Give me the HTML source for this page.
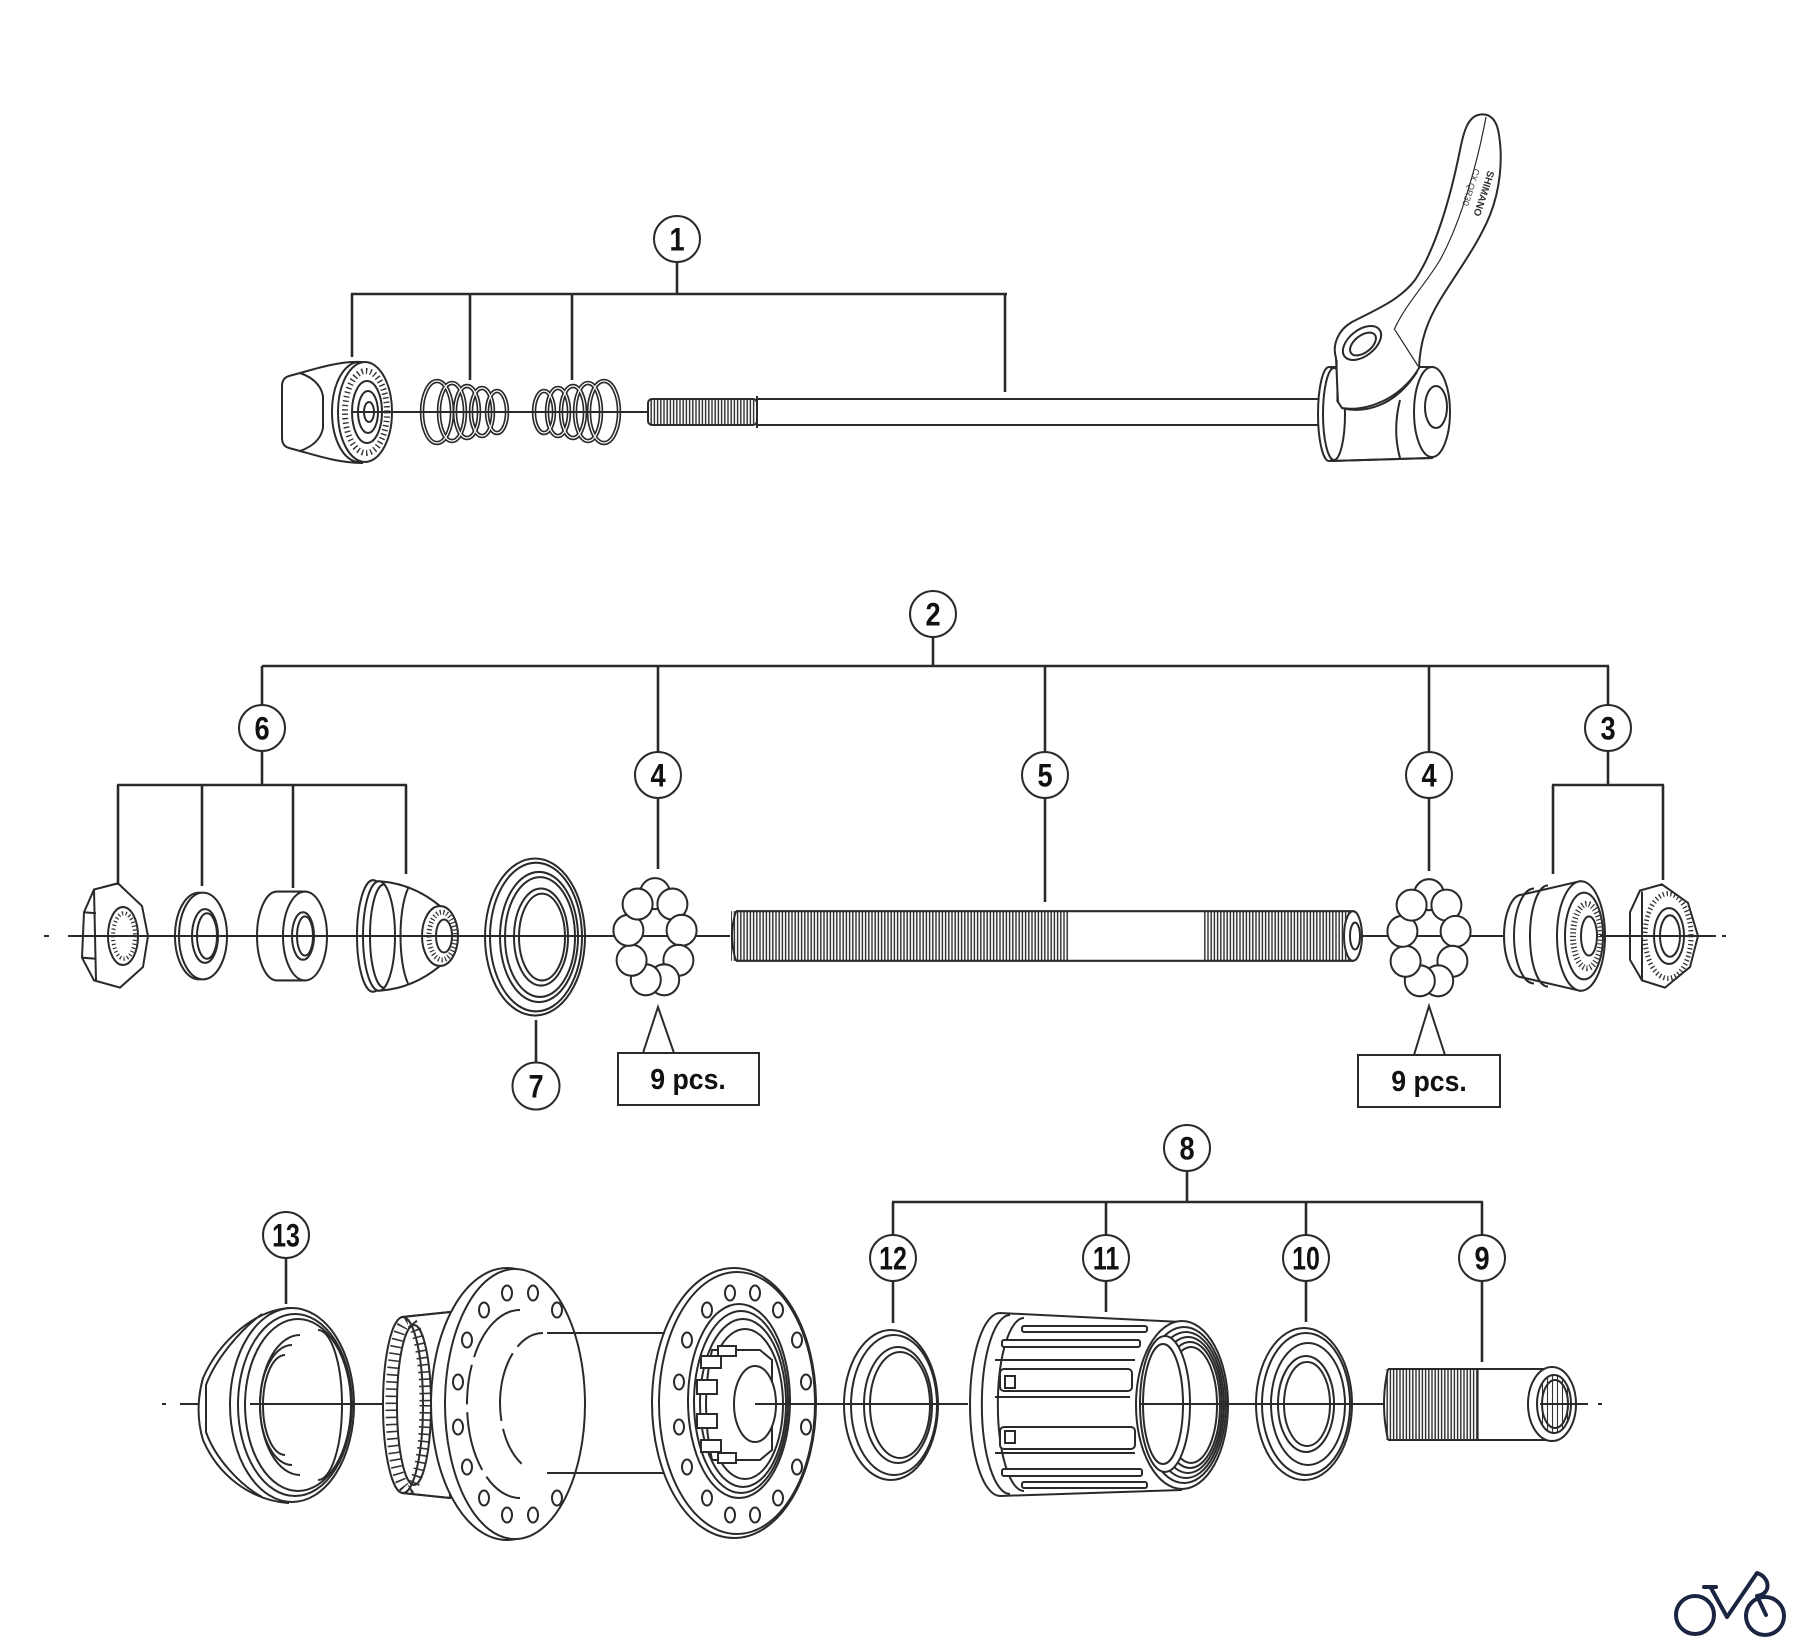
<!DOCTYPE html>
<html><head><meta charset="utf-8"><style>
html,body{margin:0;padding:0;background:#fff;}
svg{display:block;}
.l{stroke:#2a2a2a;stroke-width:2.6;fill:none;}
.p{stroke:#2a2a2a;stroke-width:2;fill:#fff;}
.pn{stroke:#2a2a2a;stroke-width:2;fill:none;}
.t{stroke:#2a2a2a;stroke-width:1.2;fill:none;}
.ax{stroke:#2a2a2a;stroke-width:2;fill:none;}
.lb{font-family:"Liberation Sans",Arial,sans-serif;font-weight:bold;font-size:32px;fill:#111;}
.pc{font-family:"Liberation Sans",Arial,sans-serif;font-weight:bold;font-size:29px;fill:#111;}
</style></head><body>
<svg width="1800" height="1651" viewBox="0 0 1800 1651" xmlns="http://www.w3.org/2000/svg">
<defs>
<pattern id="thr" width="3.2" height="20" patternUnits="userSpaceOnUse"><rect width="3.2" height="20" fill="#fff"/><line x1="1.6" y1="0" x2="1.6" y2="20" stroke="#333" stroke-width="1.45"/></pattern>
<pattern id="spl" width="5" height="20" patternUnits="userSpaceOnUse"><rect width="5" height="20" fill="#fff"/><line x1="2.5" y1="0" x2="2.5" y2="20" stroke="#333" stroke-width="1.1"/></pattern>
<g id="ball"><circle r="15" class="p" stroke-width="1.8"/></g>
</defs>
<rect width="1800" height="1651" fill="#fff"/>

<!-- ================= SECTION 1 ================= -->
<g>
<line class="l" x1="677" y1="262" x2="677" y2="294"/>
<line class="l" x1="351" y1="294" x2="1007" y2="294" stroke-width="3"/>
<line class="l" x1="352" y1="294" x2="352" y2="357"/>
<line class="l" x1="470" y1="294" x2="470" y2="380"/>
<line class="l" x1="572" y1="294" x2="572" y2="380"/>
<line class="l" x1="1005" y1="294" x2="1005" y2="392"/>
</g>
<!-- nut -->
<g>
<path class="p" d="M362,362 C340,361 318,368 300,373 L289,376 Q282,378 282,386 L282,438 Q282,446 289,448 L300,451 C318,456 340,463 362,463 Z"/>
<path class="pn" d="M300,373 Q320,380 323,396 L323,428 Q320,444 300,451"/>
<ellipse class="p" cx="359" cy="412" rx="27" ry="50"/>
<ellipse class="p" cx="365" cy="412" rx="27" ry="50"/>
<ellipse cx="366" cy="412" rx="21" ry="41" fill="none" stroke="#333" stroke-width="6" stroke-dasharray="1.4 3"/>
<ellipse class="pn" cx="367" cy="412" rx="15" ry="31"/>
<ellipse class="pn" cx="368" cy="412" rx="10" ry="21"/>
<ellipse class="pn" cx="369" cy="412" rx="5" ry="10"/>
</g>
<!-- springs -->
<g fill="none" stroke="#2a2a2a">
<g stroke-width="4.5">
<ellipse cx="437" cy="412" rx="15" ry="31"/><ellipse cx="452" cy="412" rx="13" ry="29"/><ellipse cx="467" cy="412" rx="12" ry="26"/><ellipse cx="482" cy="412" rx="11" ry="24"/><ellipse cx="497" cy="412" rx="10" ry="21"/>
<ellipse cx="544" cy="412" rx="10" ry="21"/><ellipse cx="558" cy="412" rx="11" ry="24"/><ellipse cx="573" cy="412" rx="12" ry="26"/><ellipse cx="588" cy="412" rx="13" ry="29"/><ellipse cx="604" cy="412" rx="15" ry="31"/>
</g>
<g stroke="#fff" stroke-width="1.2">
<ellipse cx="437" cy="412" rx="15" ry="31"/><ellipse cx="452" cy="412" rx="13" ry="29"/><ellipse cx="467" cy="412" rx="12" ry="26"/><ellipse cx="482" cy="412" rx="11" ry="24"/><ellipse cx="497" cy="412" rx="10" ry="21"/>
<ellipse cx="544" cy="412" rx="10" ry="21"/><ellipse cx="558" cy="412" rx="11" ry="24"/><ellipse cx="573" cy="412" rx="12" ry="26"/><ellipse cx="588" cy="412" rx="13" ry="29"/><ellipse cx="604" cy="412" rx="15" ry="31"/>
</g>
</g>
<line class="ax" x1="352" y1="412" x2="648" y2="412" stroke-width="1.8"/>
<!-- threaded end + rod -->
<rect x="648" y="399" width="109" height="26" rx="4" fill="url(#thr)" stroke="#2a2a2a" stroke-width="2"/>
<line class="pn" x1="757" y1="396" x2="757" y2="428"/>
<line class="pn" x1="757" y1="399" x2="1325" y2="399" stroke-width="2.4"/>
<line class="pn" x1="757" y1="425" x2="1325" y2="425" stroke-width="2.4"/>
<!-- lever cam -->
<g>
<path class="p" d="M1331,367 L1432,367 L1432,458 L1331,461 Z" stroke="none"/>
<line class="pn" x1="1331" y1="461" x2="1432" y2="458"/>
<ellipse class="p" cx="1329" cy="414" rx="11" ry="47"/>
<ellipse class="p" cx="1334" cy="414" rx="11" ry="46"/>
<path class="pn" d="M1342,408 C1365,414 1395,406 1417,372"/>
<ellipse class="p" cx="1432" cy="412" rx="18" ry="45"/>
<ellipse class="pn" cx="1436" cy="407" rx="11" ry="21"/>
<path class="pn" d="M1400,458 C1395,440 1395,420 1400,400"/>
<!-- arm -->
<path class="p" d="M1336,358 C1332,345 1338,330 1352,322 C1375,310 1400,300 1415,280 C1435,250 1450,200 1460,150 C1464,130 1468,118 1478,115 C1490,112 1497,120 1499,135 C1503,160 1500,190 1490,215 C1478,245 1455,275 1440,300 C1428,320 1420,340 1419,368 C1400,400 1365,412 1342,408 L1338,402 Z"/>
<path class="t" stroke-width="1.5" d="M1486,117 C1478,160 1462,220 1440,260 C1425,285 1405,305 1394,330"/>
<line class="t" stroke-width="1.5" x1="1395" y1="330" x2="1418" y2="366"/>
<line class="t" stroke-width="1.5" x1="1337" y1="360" x2="1337" y2="402"/>
<ellipse class="p" cx="1362" cy="343" rx="22" ry="13" transform="rotate(-38 1362 343)"/>
<ellipse class="pn" cx="1363" cy="344" rx="15" ry="8.5" transform="rotate(-38 1363 344)"/>
<text transform="translate(1488,170) rotate(108)" font-family="Liberation Sans,Arial,sans-serif" font-size="10" font-weight="bold" fill="#333">SHIMANO</text>
<text transform="translate(1474,168) rotate(108)" font-family="Liberation Sans,Arial,sans-serif" font-size="9" fill="#444">CX QR30</text>
</g>

<!-- ================= SECTION 2 ================= -->
<g>
<line class="l" x1="933" y1="637" x2="933" y2="666"/>
<line class="l" x1="262" y1="666" x2="1609" y2="666" stroke-width="3"/>
<line class="l" x1="262" y1="666" x2="262" y2="706"/>
<line class="l" x1="658" y1="666" x2="658" y2="753"/>
<line class="l" x1="1045" y1="666" x2="1045" y2="753"/>
<line class="l" x1="1429" y1="666" x2="1429" y2="753"/>
<line class="l" x1="1608" y1="666" x2="1608" y2="706"/>
<line class="l" x1="262" y1="751" x2="262" y2="785"/>
<line class="l" x1="117" y1="785" x2="407" y2="785" stroke-width="3"/>
<line class="l" x1="118" y1="785" x2="118" y2="883"/>
<line class="l" x1="202" y1="785" x2="202" y2="886"/>
<line class="l" x1="293" y1="785" x2="293" y2="888"/>
<line class="l" x1="406" y1="785" x2="406" y2="874"/>
<line class="l" x1="658" y1="798" x2="658" y2="869"/>
<line class="l" x1="1045" y1="798" x2="1045" y2="902"/>
<line class="l" x1="1429" y1="798" x2="1429" y2="871"/>
<line class="l" x1="1608" y1="751" x2="1608" y2="785"/>
<line class="l" x1="1552" y1="785" x2="1664" y2="785" stroke-width="3"/>
<line class="l" x1="1553" y1="785" x2="1553" y2="874"/>
<line class="l" x1="1663" y1="785" x2="1663" y2="880"/>
<line class="l" x1="536" y1="1020" x2="536" y2="1062"/>
</g>

<g transform="translate(0,936) scale(1,1.033) translate(0,-925)">
<!-- left hex nut -->
<g>
<polygon class="p" points="84,902 94,880 118,874 142,896 148,925 143,955 120,975 94,968 82,946"/>
<line class="pn" x1="94" y1="880" x2="96" y2="968"/>
<line class="pn" x1="84" y1="902" x2="96" y2="903"/>
<line class="pn" x1="82" y1="946" x2="96" y2="947"/>
<ellipse class="p" cx="123" cy="925" rx="15" ry="28"/>
<ellipse cx="124" cy="925" rx="11" ry="22" fill="none" stroke="#333" stroke-width="4" stroke-dasharray="1.2 2.5"/>
</g>
<!-- washer -->
<g>
<ellipse class="p" cx="199" cy="925" rx="24" ry="42"/>
<ellipse class="p" cx="203" cy="925" rx="24" ry="42"/>
<ellipse class="pn" cx="205" cy="925" rx="13" ry="26"/>
<ellipse class="pn" cx="207" cy="925" rx="10" ry="22"/>
</g>
<!-- spacer -->
<g>
<path class="p" d="M277,882 L305,882 L305,968 L277,968 A20,43 0 0 1 277,882 Z"/>
<ellipse class="p" cx="305" cy="925" rx="22" ry="43"/>
<ellipse class="pn" cx="303" cy="925" rx="11" ry="23"/>
<ellipse class="pn" cx="305" cy="925" rx="8" ry="19"/>
</g>
<!-- cone left -->
<g>
<ellipse class="p" cx="373" cy="925" rx="16" ry="54"/>
<path class="p" d="M378,872 C400,873 420,880 440,896 L440,954 C420,970 400,977 378,978 Z"/>
<ellipse class="p" cx="379" cy="925" rx="16" ry="53"/>
<path class="pn" d="M384,875 A14,50 0 0 0 384,975"/>
<path class="pn" d="M408,879 C398,900 398,950 408,971"/>
<ellipse class="p" cx="440" cy="925" rx="18" ry="29"/>
<ellipse cx="442" cy="925" rx="13" ry="23" fill="none" stroke="#333" stroke-width="5" stroke-dasharray="1.2 2.3"/>
<ellipse class="pn" cx="444" cy="925" rx="8" ry="16"/>
</g>
<!-- seal 7 -->
<g>
<ellipse class="p" cx="535" cy="926" rx="50" ry="76"/>
<ellipse class="pn" cx="536" cy="926" rx="46" ry="72"/>
<ellipse class="pn" cx="539" cy="926" rx="39" ry="63"/>
<ellipse class="pn" cx="540" cy="926" rx="35" ry="58"/>
<ellipse class="pn" cx="541" cy="926" rx="27" ry="47" stroke-width="2.4"/>
<ellipse class="pn" cx="542" cy="926" rx="23" ry="42"/>
</g>
<!-- axis section 2 -->
<line class="ax" x1="44" y1="925" x2="49" y2="925"/>
<line class="ax" x1="68" y1="925" x2="730" y2="925"/>
<line class="ax" x1="1353" y1="925" x2="1716" y2="925"/>
<line class="ax" x1="1722" y1="925" x2="1726" y2="925"/>
<!-- balls left -->
<g>
<use href="#ball" x="655" y="884"/><use href="#ball" x="672.4" y="894.1"/><use href="#ball" x="681.6" y="919.5"/><use href="#ball" x="678.4" y="948.5"/><use href="#ball" x="664.2" y="967.4"/><use href="#ball" x="645.8" y="967.4"/><use href="#ball" x="631.6" y="948.5"/><use href="#ball" x="628.4" y="919.5"/><use href="#ball" x="637.6" y="894.1"/>
</g>
<!-- balls right -->
<g>
<use href="#ball" x="1429" y="885"/><use href="#ball" x="1446.4" y="895.1"/><use href="#ball" x="1455.6" y="920.5"/><use href="#ball" x="1452.4" y="949.5"/><use href="#ball" x="1438.2" y="968.4"/><use href="#ball" x="1419.8" y="968.4"/><use href="#ball" x="1405.6" y="949.5"/><use href="#ball" x="1402.4" y="920.5"/><use href="#ball" x="1411.6" y="895.1"/>
</g>
<!-- axle -->
<g>
<rect x="731" y="901" width="338" height="48" fill="url(#thr)" stroke="none"/>
<rect x="1069" y="901" width="135" height="48" fill="#fff"/>
<rect x="1204" y="901" width="149" height="48" fill="url(#thr)"/>
<path class="pn" d="M736,901 L1353,901 M736,949 L1353,949" stroke-width="2.4"/>
<path class="pn" d="M736,901 Q728,925 736,949"/>
<ellipse class="p" cx="1353" cy="925" rx="9" ry="24"/>
<ellipse class="pn" cx="1355" cy="925" rx="5" ry="13"/>
</g>
<!-- right cone -->
<g>
<path class="p" d="M1522,885 L1580,872 L1580,978 L1522,965 A18,40 0 0 1 1522,885 Z"/>
<path class="pn" d="M1534,879 A20,46 0 0 0 1534,971"/>
<path class="pn" d="M1548,876 A18,49 0 0 0 1548,974"/>
<ellipse class="p" cx="1581" cy="925" rx="24" ry="53"/>
<ellipse class="pn" cx="1584" cy="925" rx="19" ry="42"/>
<ellipse cx="1587" cy="925" rx="14" ry="31" fill="none" stroke="#333" stroke-width="6" stroke-dasharray="1.2 2.4"/>
<ellipse class="pn" cx="1589" cy="925" rx="8" ry="19"/>
</g>
<!-- right locknut -->
<g>
<polygon class="p" points="1640,881 1662,875 1688,893 1698,925 1690,955 1665,975 1642,968 1630,948 1630,902"/>
<line class="pn" x1="1642" y1="882" x2="1642" y2="968"/>
<ellipse cx="1668" cy="925" rx="23" ry="41" fill="none" stroke="#333" stroke-width="5" stroke-dasharray="1.3 2.6"/>
<ellipse class="p" cx="1669" cy="925" rx="15" ry="27"/>
<ellipse class="pn" cx="1670" cy="925" rx="10" ry="20"/>
</g>
<line class="ax" x1="1600" y1="925" x2="1716" y2="925"/>
</g>

<!-- 9 pcs boxes -->
<polyline class="pn" points="643,1053 658,1007 674,1053"/>
<rect x="618" y="1053" width="141" height="52" fill="#fff" stroke="#2a2a2a" stroke-width="2"/>
<text class="pc" transform="translate(688,1089) scale(0.92,1)" text-anchor="middle">9 pcs.</text>
<polyline class="pn" points="1414,1055 1429,1006 1445,1055"/>
<rect x="1358" y="1055" width="142" height="52" fill="#fff" stroke="#2a2a2a" stroke-width="2"/>
<text class="pc" transform="translate(1429,1091) scale(0.92,1)" text-anchor="middle">9 pcs.</text>

<!-- ================= SECTION 3 ================= -->
<g>
<line class="l" x1="286" y1="1258" x2="286" y2="1304"/>
<line class="l" x1="1187" y1="1171" x2="1187" y2="1202"/>
<line class="l" x1="892" y1="1202" x2="1483" y2="1202" stroke-width="3"/>
<line class="l" x1="893" y1="1202" x2="893" y2="1236"/>
<line class="l" x1="1106" y1="1202" x2="1106" y2="1236"/>
<line class="l" x1="1306" y1="1202" x2="1306" y2="1236"/>
<line class="l" x1="1482" y1="1202" x2="1482" y2="1236"/>
<line class="l" x1="893" y1="1281" x2="893" y2="1323"/>
<line class="l" x1="1106" y1="1281" x2="1106" y2="1312"/>
<line class="l" x1="1306" y1="1281" x2="1306" y2="1322"/>
<line class="l" x1="1482" y1="1281" x2="1482" y2="1362"/>
</g>
<!-- axis section 3 -->
<line class="ax" x1="162" y1="1404" x2="166" y2="1404"/>
<line class="ax" x1="180" y1="1404" x2="385" y2="1404"/>
<!-- cup 13 -->
<g>
<path class="p" d="M290,1308 C255,1310 220,1340 203,1378 C197,1400 197,1420 203,1440 C218,1475 250,1500 288,1503 Z"/>
<path class="pn" d="M262,1314 C240,1330 215,1360 206,1385 L206,1432 C215,1458 240,1485 262,1497"/>
<ellipse class="p" cx="292" cy="1405" rx="62" ry="97"/>
<ellipse class="pn" cx="295" cy="1405" rx="57" ry="91"/>
<ellipse class="pn" cx="298" cy="1405" rx="53" ry="86"/>
<path class="pn" d="M300,1335 A40,70 0 0 0 300,1475"/>
<path class="pn" d="M292,1345 A32,60 0 0 0 292,1465"/>
<path class="pn" d="M285,1355 A22,50 0 0 0 285,1455"/>
<path class="pn" d="M318,1330 A24,75 0 0 1 318,1480"/>
<line class="ax" x1="250" y1="1404" x2="355" y2="1404"/>
</g>
<!-- hub: rotor spline -->
<g>
<path class="p" d="M402,1317 L450,1312 L450,1498 L402,1493 Z"/>
<ellipse class="p" cx="403" cy="1405" rx="20" ry="88"/>
<ellipse cx="408" cy="1405" rx="17" ry="84" fill="none" stroke="#333" stroke-width="11" stroke-dasharray="1.6 5.5"/>
<ellipse class="pn" cx="414" cy="1405" rx="17" ry="80"/>
<line class="pn" x1="402" y1="1317" x2="450" y2="1312"/>
<line class="pn" x1="402" y1="1493" x2="450" y2="1498"/>
</g>
<!-- hub shell -->
<rect x="540" y="1333" width="125" height="140" fill="#fff"/>
<!-- left flange -->
<g>
<ellipse class="p" cx="507" cy="1404" rx="76" ry="136"/>
<ellipse class="p" cx="515" cy="1404" rx="70" ry="135"/>
<path class="pn" d="M520,1310 A53,94 0 0 0 520,1498" stroke-dasharray="70 8 40 8 60 8"/>
<path class="pn" d="M543,1333 A43,70 0 0 0 543,1473" stroke-dasharray="30 8 70 8 40"/>
<g class="pn" stroke-width="1.8">
<ellipse cx="507" cy="1293" rx="5" ry="7.5"/><ellipse cx="533" cy="1293" rx="5" ry="7.5"/>
<ellipse cx="484" cy="1310" rx="5" ry="7.5"/><ellipse cx="557" cy="1310" rx="5" ry="7.5"/>
<ellipse cx="467" cy="1340" rx="5" ry="7.5"/><ellipse cx="458" cy="1382" rx="5" ry="7.5"/>
<ellipse cx="458" cy="1427" rx="5" ry="7.5"/><ellipse cx="467" cy="1467" rx="5" ry="7.5"/>
<ellipse cx="484" cy="1498" rx="5" ry="7.5"/><ellipse cx="557" cy="1498" rx="5" ry="7.5"/>
<ellipse cx="507" cy="1515" rx="5" ry="7.5"/><ellipse cx="533" cy="1515" rx="5" ry="7.5"/>
</g>
</g>
<line class="pn" x1="547" y1="1333" x2="664" y2="1333"/>
<line class="pn" x1="547" y1="1473" x2="664" y2="1473"/>
<!-- right flange -->
<g>
<ellipse class="p" cx="734" cy="1403" rx="82" ry="135"/>
<ellipse class="pn" cx="737" cy="1403" rx="78" ry="131"/>
<g class="pn" stroke-width="1.8">
<ellipse cx="730" cy="1293" rx="5" ry="7.5"/><ellipse cx="755" cy="1293" rx="5" ry="7.5"/>
<ellipse cx="707" cy="1310" rx="5" ry="7.5"/><ellipse cx="778" cy="1310" rx="5" ry="7.5"/>
<ellipse cx="687" cy="1340" rx="5" ry="7.5"/><ellipse cx="797" cy="1340" rx="5" ry="7.5"/>
<ellipse cx="679" cy="1382" rx="5" ry="7.5"/><ellipse cx="806" cy="1382" rx="5" ry="7.5"/>
<ellipse cx="679" cy="1427" rx="5" ry="7.5"/><ellipse cx="806" cy="1427" rx="5" ry="7.5"/>
<ellipse cx="687" cy="1467" rx="5" ry="7.5"/><ellipse cx="797" cy="1467" rx="5" ry="7.5"/>
<ellipse cx="707" cy="1498" rx="5" ry="7.5"/><ellipse cx="778" cy="1498" rx="5" ry="7.5"/>
<ellipse cx="730" cy="1515" rx="5" ry="7.5"/><ellipse cx="755" cy="1515" rx="5" ry="7.5"/>
</g>
<ellipse class="pn" cx="739" cy="1401" rx="51" ry="97"/>
<ellipse class="pn" cx="741" cy="1402" rx="47" ry="91"/>
<ellipse class="pn" cx="743" cy="1403" rx="43" ry="84"/>
<ellipse class="pn" cx="745" cy="1404" rx="38" ry="75"/>
<path class="p" d="M712,1350 L760,1350 L772,1360 L772,1450 L760,1460 L712,1460 Q700,1405 712,1350 Z"/>
<g class="p" stroke-width="1.6">
<rect x="701" y="1356" width="20" height="12"/><rect x="697" y="1380" width="20" height="14"/>
<rect x="697" y="1414" width="20" height="14"/><rect x="701" y="1440" width="20" height="12"/>
<rect x="718" y="1346" width="18" height="10"/><rect x="718" y="1453" width="18" height="10"/>
</g>
<ellipse class="p" cx="755" cy="1404" rx="21" ry="38"/>
</g>
<line class="ax" x1="755" y1="1404" x2="968" y2="1404"/>
<!-- washer 12 -->
<g>
<ellipse class="p" cx="891" cy="1405" rx="47" ry="75"/>
<ellipse class="pn" cx="894" cy="1405" rx="43" ry="70"/>
<ellipse class="pn" cx="898" cy="1405" rx="34" ry="58"/>
<ellipse class="pn" cx="900" cy="1405" rx="30" ry="53"/>
</g>
<line class="ax" x1="820" y1="1404" x2="968" y2="1404"/>
<!-- freehub 11 -->
<g>
<path class="p" d="M1000,1313 L1181,1322 L1181,1490 L1000,1496 A30,91.5 0 0 1 1000,1313 Z"/>
<path class="pn" d="M1010,1315 A28,89 0 0 0 1010,1494"/>
<path class="pn" d="M1024,1318 A26,86 0 0 0 1024,1491"/>
<g class="p" stroke-width="1.8">
<rect x="1022" y="1326" width="125" height="6" rx="2"/>
<rect x="1002" y="1340" width="138" height="7" rx="2"/>
<rect x="1000" y="1369" width="132" height="22" rx="4"/>
<rect x="1005" y="1376" width="10" height="12"/>
<rect x="1000" y="1427" width="135" height="22" rx="4"/>
<rect x="1005" y="1431" width="10" height="12"/>
<rect x="1002" y="1469" width="140" height="7" rx="2"/>
<rect x="1022" y="1482" width="125" height="6" rx="2"/>
</g>
<line class="pn" x1="995" y1="1397" x2="1130" y2="1397"/>
<line class="pn" x1="995" y1="1453" x2="1135" y2="1453"/>
<line class="pn" x1="995" y1="1360" x2="1135" y2="1360"/>
<ellipse class="p" cx="1182" cy="1405" rx="46" ry="84"/>
<ellipse class="pn" cx="1184" cy="1405" rx="42" ry="78"/>
<ellipse class="pn" cx="1186" cy="1405" rx="38" ry="73"/>
<ellipse class="pn" cx="1188" cy="1405" rx="34" ry="68" stroke-width="1.4"/>
<ellipse class="pn" cx="1190" cy="1405" rx="30" ry="63" stroke-width="1.4"/>
<ellipse class="pn" cx="1191" cy="1405" rx="26" ry="58" stroke-width="1.4"/>
<ellipse class="p" cx="1165" cy="1404" rx="25" ry="68"/>
<ellipse class="pn" cx="1163" cy="1404" rx="20" ry="60"/>
</g>
<line class="ax" x1="1139" y1="1404" x2="1384" y2="1404"/>
<!-- seal 10 -->
<g>
<ellipse class="p" cx="1304" cy="1404" rx="48" ry="76"/>
<ellipse class="pn" cx="1306" cy="1404" rx="44" ry="71"/>
<ellipse class="pn" cx="1308" cy="1404" rx="37" ry="61"/>
<ellipse class="pn" cx="1306" cy="1404" rx="28" ry="48" stroke-width="2.4"/>
<ellipse class="pn" cx="1307" cy="1404" rx="23" ry="42"/>
</g>
<line class="ax" x1="1250" y1="1404" x2="1384" y2="1404"/>
<!-- axle 9 -->
<g>
<rect x="1386" y="1369" width="92" height="71" fill="url(#thr)"/>
<rect x="1478" y="1369" width="74" height="71" fill="#fff"/>
<path class="pn" d="M1388,1369 L1552,1369 M1388,1440 L1552,1440" stroke-width="2.2"/>
<path class="pn" d="M1388,1369 Q1380,1404 1388,1440"/>
<line class="t" x1="1478" y1="1369" x2="1478" y2="1440"/>
<ellipse class="p" cx="1552" cy="1404" rx="24" ry="37"/>
<ellipse cx="1554" cy="1404" rx="17" ry="29" fill="url(#spl)" stroke="#2a2a2a" stroke-width="2"/>
<ellipse class="pn" cx="1555" cy="1404" rx="13" ry="24"/>
</g>
<line class="ax" x1="1540" y1="1404" x2="1588" y2="1404"/>
<line class="ax" x1="1598" y1="1404" x2="1602" y2="1404"/>

<!-- ================= LABELS ================= -->
<g>
<g transform="translate(677,239)"><circle r="23" fill="#fff" stroke="#2a2a2a" stroke-width="2"/><text class="lb" transform="scale(0.85,1)" y="11.5" text-anchor="middle">1</text></g>
<g transform="translate(933,614)"><circle r="23" fill="#fff" stroke="#2a2a2a" stroke-width="2"/><text class="lb" transform="scale(0.85,1)" y="11.5" text-anchor="middle">2</text></g>
<g transform="translate(262,728)"><circle r="23" fill="#fff" stroke="#2a2a2a" stroke-width="2"/><text class="lb" transform="scale(0.85,1)" y="11.5" text-anchor="middle">6</text></g>
<g transform="translate(658,775)"><circle r="23" fill="#fff" stroke="#2a2a2a" stroke-width="2"/><text class="lb" transform="scale(0.85,1)" y="11.5" text-anchor="middle">4</text></g>
<g transform="translate(1045,775)"><circle r="23" fill="#fff" stroke="#2a2a2a" stroke-width="2"/><text class="lb" transform="scale(0.85,1)" y="11.5" text-anchor="middle">5</text></g>
<g transform="translate(1429,775)"><circle r="23" fill="#fff" stroke="#2a2a2a" stroke-width="2"/><text class="lb" transform="scale(0.85,1)" y="11.5" text-anchor="middle">4</text></g>
<g transform="translate(1608,728)"><circle r="23" fill="#fff" stroke="#2a2a2a" stroke-width="2"/><text class="lb" transform="scale(0.85,1)" y="11.5" text-anchor="middle">3</text></g>
<g transform="translate(536,1086)"><circle r="23.5" fill="#fff" stroke="#2a2a2a" stroke-width="2"/><text class="lb" transform="scale(0.85,1)" y="11.5" text-anchor="middle">7</text></g>
<g transform="translate(286,1235)"><circle r="23" fill="#fff" stroke="#2a2a2a" stroke-width="2"/><text class="lb" transform="scale(0.78,1)" y="11.5" text-anchor="middle">13</text></g>
<g transform="translate(1187,1148)"><circle r="23" fill="#fff" stroke="#2a2a2a" stroke-width="2"/><text class="lb" transform="scale(0.85,1)" y="11.5" text-anchor="middle">8</text></g>
<g transform="translate(893,1258)"><circle r="23" fill="#fff" stroke="#2a2a2a" stroke-width="2"/><text class="lb" transform="scale(0.78,1)" y="11.5" text-anchor="middle">12</text></g>
<g transform="translate(1106,1258)"><circle r="23" fill="#fff" stroke="#2a2a2a" stroke-width="2"/><text class="lb" transform="scale(0.78,1)" y="11.5" text-anchor="middle">11</text></g>
<g transform="translate(1306,1258)"><circle r="23" fill="#fff" stroke="#2a2a2a" stroke-width="2"/><text class="lb" transform="scale(0.78,1)" y="11.5" text-anchor="middle">10</text></g>
<g transform="translate(1482,1258)"><circle r="23" fill="#fff" stroke="#2a2a2a" stroke-width="2"/><text class="lb" transform="scale(0.85,1)" y="11.5" text-anchor="middle">9</text></g>
</g>

<!-- bike logo -->
<g fill="none" stroke="#1b2440" stroke-width="4" stroke-linecap="round" stroke-linejoin="round">
<circle cx="1695" cy="1615" r="19"/>
<circle cx="1765" cy="1616" r="19"/>
<line x1="1704" y1="1587" x2="1716" y2="1587"/>
<path d="M1711,1588 L1727,1617 L1757,1573 C1770,1577 1772,1594 1757,1596 L1766,1615"/>
</g>
</svg>
</body></html>
